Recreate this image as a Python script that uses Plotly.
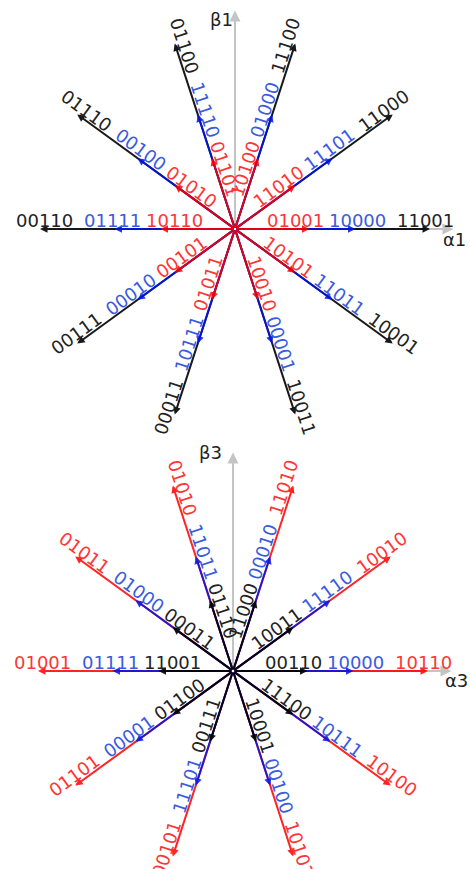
import math
import plotly.graph_objects as go

# ---- data ----
ANGLES_DEG = [0, 36, 72, 108, 144, 180, 216, 252, 288, 324]
MAGNITUDES = [0.2472, 0.4, 0.6472]          # small, medium, large vector lengths

# top diagram (alpha1-beta1): inner = red, middle = blue, outer = black
TOP_INNER = ["01001", "11010", "10100", "01101", "01010", "10110", "00101", "01011", "10010", "10101"]
TOP_MIDDLE = ["10000", "11101", "01000", "11110", "00100", "01111", "00010", "10111", "00001", "11011"]
TOP_OUTER = ["11001", "11000", "11100", "01100", "01110", "00110", "00111", "00011", "10011", "10001"]

# bottom diagram (alpha3-beta3): inner = black, middle = blue, outer = red
BOT_INNER = ["00110", "10011", "11000", "01110", "00011", "11001", "01100", "00111", "10001", "11100"]
BOT_MIDDLE = ["10000", "11110", "00010", "11011", "01000", "01111", "00001", "11101", "00100", "10111"]
BOT_OUTER = ["10110", "10010", "11010", "01010", "01011", "01001", "01101", "00101", "10101", "10100"]

LABEL_FRAC = [0.31, 0.63, 0.975]   # where labels sit along each vector (fraction of outer length)

W, H = 470, 869
S = 195 / MAGNITUDES[2]            # px per unit
AXIS_LEN = 0.725

LINE_RED = "rgba(255,0,0,0.86)"
LINE_BLUE = "rgba(0,20,235,0.86)"
LINE_BLACK = "rgba(0,0,0,0.9)"
TXT_RED = "#ff3535"
TXT_BLUE = "#3a5ae0"
TXT_BLACK = "#222222"
AXIS_GRAY = "#c4c4c4"
FONT = "DejaVu Sans"

fig = go.Figure()
# invisible traces to bind the axes
fig.add_trace(go.Scatter(x=[0], y=[0], mode="markers", marker=dict(opacity=0), xaxis="x", yaxis="y",
                         hoverinfo="skip", showlegend=False))
fig.add_trace(go.Scatter(x=[0], y=[0], mode="markers", marker=dict(opacity=0), xaxis="x2", yaxis="y2",
                         hoverinfo="skip", showlegend=False))

ann = []

def arrow(xr, yr, x0, y0, x1, y1, color, width=2, size=0.9, head=2):
    ann.append(dict(x=x1, y=y1, ax=x0, ay=y0, xref=xr, yref=yr, axref=xr, ayref=yr,
                    showarrow=True, arrowhead=head, arrowsize=size, arrowwidth=width,
                    arrowcolor=color, standoff=0, startstandoff=0, text=""))

def label(xr, yr, theta, r, txt, color, off_px=8.5):
    phi = theta
    while phi > 90:
        phi -= 180
    while phi <= -90:
        phi += 180
    t = math.radians(theta)
    p = math.radians(phi)
    nx, ny = -math.sin(p), math.cos(p)
    x = r * math.cos(t) + nx * off_px / S
    y = r * math.sin(t) + ny * off_px / S
    ann.append(dict(x=x, y=y, xref=xr, yref=yr, text=txt, showarrow=False, textangle=-phi,
                    xanchor="center", yanchor="middle",
                    font=dict(family=FONT, size=18, color=color)))

def diagram(xr, yr, names, line_cols, txt_cols, alabel, blabel, apos, bpos):
    # axes
    arrow(xr, yr, 0, 0, AXIS_LEN, 0, AXIS_GRAY, width=2, size=1.1)
    arrow(xr, yr, 0, 0, 0, AXIS_LEN, AXIS_GRAY, width=2, size=1.1)
    ann.append(dict(x=apos[0], y=apos[1], xref=xr, yref=yr, text=alabel, showarrow=False,
                    xanchor="center", yanchor="middle", font=dict(family=FONT, size=18, color=TXT_BLACK)))
    ann.append(dict(x=bpos[0], y=bpos[1], xref=xr, yref=yr, text=blabel, showarrow=False,
                    xanchor="right", yanchor="middle", font=dict(family=FONT, size=18, color=TXT_BLACK)))
    # vectors: outer first, inner on top
    for ring in (2, 1, 0):
        for i, th in enumerate(ANGLES_DEG):
            t = math.radians(th)
            m = MAGNITUDES[ring]
            arrow(xr, yr, 0, 0, m * math.cos(t), m * math.sin(t), line_cols[ring], width=2, size=0.75)
    for ring in (0, 1, 2):
        for i, th in enumerate(ANGLES_DEG):
            label(xr, yr, th, LABEL_FRAC[ring] * MAGNITUDES[2], names[ring][i], txt_cols[ring])

diagram("x", "y", [TOP_INNER, TOP_MIDDLE, TOP_OUTER],
        [LINE_RED, LINE_BLUE, LINE_BLACK], [TXT_RED, TXT_BLUE, TXT_BLACK],
        "α1", "β1", (219 / S, -10 / S), (0 / S, 210 / S))
diagram("x2", "y2", [BOT_INNER, BOT_MIDDLE, BOT_OUTER],
        [LINE_BLACK, LINE_BLUE, LINE_RED], [TXT_BLACK, TXT_BLUE, TXT_RED],
        "α3", "β3", (223 / S, -9 / S), (-9 / S, 219 / S))

SPLIT = 440
top_origin = (235, 229)
bot_origin = (233, 671)

ax_common = dict(visible=False, showgrid=False, zeroline=False, fixedrange=True)
fig.update_layout(
    width=W, height=H, autosize=False,
    margin=dict(l=0, r=0, t=0, b=0),
    paper_bgcolor="white", plot_bgcolor="white",
    showlegend=False,
    xaxis=dict(domain=[0, 1], range=[-top_origin[0] / S, (W - top_origin[0]) / S], anchor="y", **ax_common),
    yaxis=dict(domain=[1 - SPLIT / H, 1], range=[-(SPLIT - top_origin[1]) / S, top_origin[1] / S],
               anchor="x", **ax_common),
    xaxis2=dict(domain=[0, 1], range=[-bot_origin[0] / S, (W - bot_origin[0]) / S], anchor="y2", **ax_common),
    yaxis2=dict(domain=[0, 1 - SPLIT / H], range=[-(H - bot_origin[1]) / S, (bot_origin[1] - SPLIT) / S],
                anchor="x2", **ax_common),
    annotations=ann,
)

fig.write_html("out.html", config={"displayModeBar": False},
               post_script="document.body.style.margin='0px';document.body.style.overflow='hidden';")
